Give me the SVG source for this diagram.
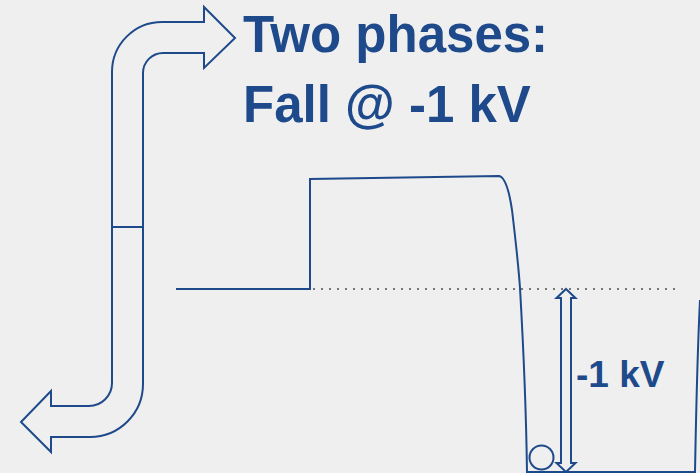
<svg xmlns="http://www.w3.org/2000/svg" width="700" height="473" viewBox="0 0 700 473">
<style>
.ln{fill:none;stroke:#1E4A8B;stroke-width:2;stroke-linejoin:miter}
.sh{fill:#EFEFEF;stroke:#1E4A8B;stroke-width:2;stroke-linejoin:miter}
.tx{font-family:"Liberation Sans",Arial,sans-serif;font-weight:bold;fill:#1E4A8B}
</style>
<rect width="700" height="473" fill="#EFEFEF"/>
<g id="arrow-up">
<path class="sh" d="M112,227 L112,72 A50,50 0 0 1 162,22 L204,22 L204,7 L235,38 L204,68 L204,53 L163,53 A20,20 0 0 0 143,73 L143,227 Z"/>
</g>
<g id="arrow-down">
<path class="sh" d="M112,227 L112,383 A23,23 0 0 1 89,406 L51,406 L51,391 L21,422 L51,452 L51,437 L90,437 A53,53 0 0 0 143,384 L143,227 Z"/>
</g>
<g id="title">
<text class="tx" x="243" y="52" font-size="51">Two phases:</text>
<text class="tx" x="243" y="122" font-size="51">Fall @ -1 kV</text>
</g>
<g id="potential">
<path class="ln" d="M176,289 L310,289 L310,179 L499,176 C505,177 509,190 512,210 C515,235 518,260 520,288 C523,340 526,400 527,472 L695,472 C696,420 697,360 700,300"/>
</g>
<g id="connectors">
<path d="M313,289 L677,289" stroke="#777" stroke-width="2" stroke-dasharray="2 6" fill="none"/>
<polygon class="sh" points="566,289 575.5,298 571,298 571,463 575.5,463 566,472 556.5,463 561,463 561,298 556.5,298"/>
</g>
<g id="ball">
<circle class="sh" cx="541.5" cy="457.5" r="12"/>
</g>
<g id="voltage-label">
<text class="tx" x="576" y="387" font-size="37">-1 kV</text>
</g>
</svg>
